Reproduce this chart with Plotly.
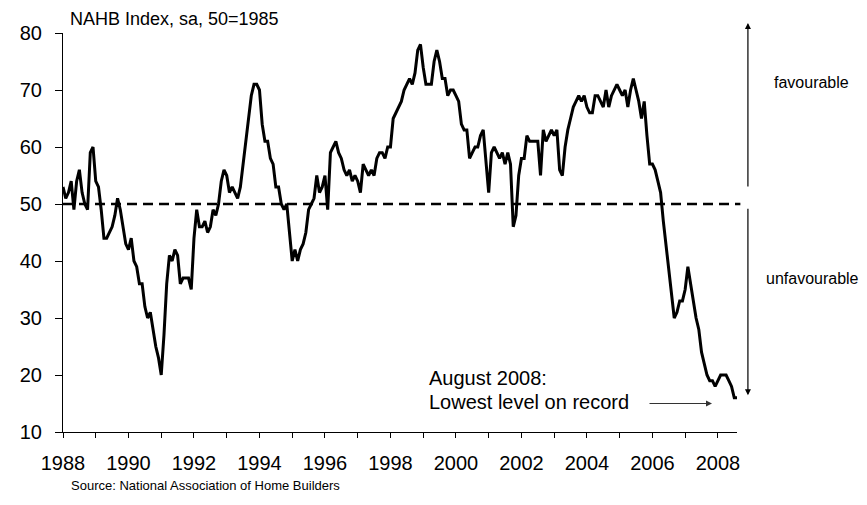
import plotly.graph_objects as go

# NAHB Housing Market Index, monthly, Jan 1988 - Aug 2008
v1988 = [53, 51, 52, 54, 49, 54, 56, 52, 50, 49, 59, 60]
v1989 = [54, 53, 49, 44, 44, 45, 46, 48, 51, 49, 46, 43]
v1990 = [42, 44, 40, 39, 36, 36, 32, 30, 31, 28, 25, 23]
v1991 = [20, 27, 36, 41, 40, 42, 41, 36, 37, 37, 37, 35]
v1992 = [44, 49, 46, 46, 47, 45, 46, 49, 48, 50, 54, 56]
v1993 = [55, 52, 53, 52, 51, 53, 57, 61, 64, 69, 71, 71]
v1994 = [70, 64, 61, 61, 58, 57, 53, 53, 50, 49, 50, 45]
v1995 = [40, 42, 40, 42, 43, 45, 49, 50, 51, 55, 52, 53]
v1996 = [55, 49, 59, 60, 61, 59, 58, 56, 55, 56, 54, 55]
v1997 = [54, 52, 57, 56, 55, 56, 55, 58, 59, 59, 58, 60]
v1998 = [60, 65, 66, 67, 68, 70, 71, 72, 71, 73, 77, 78]
v1999 = [74, 71, 71, 71, 75, 77, 75, 72, 72, 69, 70, 70]
v2000 = [69, 68, 64, 63, 63, 58, 59, 60, 60, 62, 63, 57]
v2001 = [52, 59, 60, 59, 58, 59, 57, 59, 57, 46, 48, 55]
v2002 = [58, 58, 62, 61, 61, 61, 61, 55, 63, 61, 62, 63]
v2003 = [62, 63, 56, 55, 60, 63, 65, 67, 68, 69, 68, 69]
v2004 = [67, 66, 66, 69, 69, 68, 67, 70, 67, 69, 70, 71]
v2005 = [70, 69, 70, 67, 70, 72, 70, 68, 65, 68, 62, 57]
v2006 = [57, 56, 54, 52, 47, 43, 39, 34, 30, 31, 33, 33]
v2007 = [35, 39, 36, 33, 30, 28, 24, 22, 20, 19, 19, 18]
v2008 = [19, 20, 20, 20, 19, 18, 16, 16]

values = (v1988 + v1989 + v1990 + v1991 + v1992 + v1993 + v1994 + v1995 + v1996
          + v1997 + v1998 + v1999 + v2000 + v2001 + v2002 + v2003 + v2004
          + v2005 + v2006 + v2007 + v2008)
dates = [1988 + i / 12 for i in range(len(values))]

tick_years = list(range(1988, 2009))
tick_labels = [str(y) if y % 2 == 0 else "" for y in tick_years]
neutral_level = 50

FONT = "Liberation Sans, Arial, sans-serif"

fig = go.Figure()
fig.add_trace(go.Scatter(x=dates, y=values, mode="lines",
                         line=dict(color="black", width=3), showlegend=False,
                         hoverinfo="skip"))

fig.add_shape(type="line", xref="paper", yref="y", x0=0, x1=1.005,
              y0=neutral_level, y1=neutral_level,
              line=dict(color="black", width=2.5, dash="10px,6px"))

ann = []
ann.append(dict(text="NAHB Index, sa, 50=1985", xref="paper", yref="paper",
                x=0.0078, y=1.0363, xanchor="left", yanchor="middle",
                showarrow=False, font=dict(size=18)))
ann.append(dict(text="favourable", xref="paper", yref="y", x=1.110, y=71.3,
                xanchor="center", yanchor="middle", showarrow=False,
                font=dict(size=16)))
ann.append(dict(text="unfavourable", xref="paper", yref="y", x=1.112, y=37.0,
                xanchor="center", yanchor="middle", showarrow=False,
                font=dict(size=16)))
# vertical arrows
ann.append(dict(text="", xref="paper", yref="paper", x=1.0162, y=1.025,
                ax=0, ay=165, showarrow=True, arrowhead=2, arrowsize=1,
                arrowwidth=1.2, arrowcolor="black"))
ann.append(dict(text="", xref="paper", yref="paper", x=1.0162, y=0.092,
                ax=0, ay=-188, showarrow=True, arrowhead=2, arrowsize=1,
                arrowwidth=1.2, arrowcolor="black"))
# record low annotation
ann.append(dict(text="August 2008:", xref="x", yref="y", x=1999.11, y=19.4,
                xanchor="left", yanchor="middle", showarrow=False,
                font=dict(size=20)))
ann.append(dict(text="Lowest level on record", xref="x", yref="y", x=1999.11,
                y=15.3, xanchor="left", yanchor="middle", showarrow=False,
                font=dict(size=20)))
ann.append(dict(text="", xref="x", yref="y", x=2007.82, y=15.0, ax=-64, ay=0,
                showarrow=True, arrowhead=2, arrowsize=1, arrowwidth=1.2,
                arrowcolor="#333333"))
ann.append(dict(text="Source: National Association of Home Builders",
                xref="paper", yref="paper", x=0.0093, y=-0.135,
                xanchor="left", yanchor="middle", showarrow=False,
                font=dict(size=13)))

fig.update_layout(
    width=867, height=505, autosize=False,
    margin=dict(l=49, r=138, t=25, b=81),
    paper_bgcolor="white", plot_bgcolor="white",
    font=dict(family=FONT, color="black"),
    annotations=ann,
    xaxis=dict(range=[1988, 1988 + (len(values) - 1) / 12],
               tickvals=tick_years, ticktext=tick_labels,
               ticks="outside", ticklen=5, tickcolor="black", tickwidth=1,
               showline=True, linecolor="black", linewidth=1,
               showgrid=False, zeroline=False,
               tickfont=dict(size=20), ticklabelstandoff=8),
    yaxis=dict(range=[10, 80], dtick=10, tick0=10,
               ticks="outside", ticklen=7, tickcolor="black", tickwidth=1,
               showline=True, linecolor="black", linewidth=1,
               showgrid=False, zeroline=False,
               tickfont=dict(size=20), ticklabelstandoff=9),
)

fig.write_html("out.html")
